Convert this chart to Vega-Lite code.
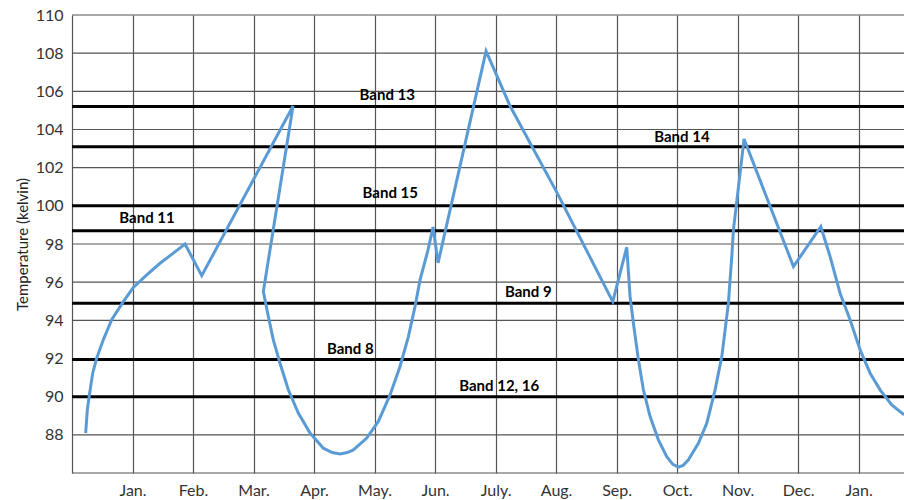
{
  "$schema": "https://vega.github.io/schema/vega-lite/v6.json",
  "width": 832,
  "height": 458,
  "autosize": {"type": "none"},
  "padding": {"left": 72, "top": 15, "right": 0, "bottom": 27},
  "background": "white",
  "config": {
    "view": {"stroke": null},
    "font": "Lato",
    "axisX": {
      "grid": true, "gridColor": "#555", "gridWidth": 1.2,
      "ticks": false, "domain": false, "labelOverlap": false, "labelFlush": false,
      "labelFontSize": 16, "labelColor": "#333", "labelPadding": 9
    },
    "axisY": {
      "grid": false,
      "ticks": false, "domain": false, "labelOverlap": false,
      "labelFontSize": 16, "labelColor": "#333", "labelPadding": 9,
      "titleFontSize": 15, "titleFontWeight": "normal", "titleColor": "#222", "titlePadding": 5
    }
  },
  "datasets": {
    "grid": [
      {"t": 86}, {"t": 88}, {"t": 90}, {"t": 92}, {"t": 94}, {"t": 96}, {"t": 98},
      {"t": 100}, {"t": 102}, {"t": 104}, {"t": 106}, {"t": 108}, {"t": 110}
    ],
    "curve": [
      {"i": 1, "m": 0.226, "t": 88.09},
      {"i": 2, "m": 0.253, "t": 89.31},
      {"i": 3, "m": 0.286, "t": 90.06},
      {"i": 4, "m": 0.342, "t": 91.23},
      {"i": 5, "m": 0.408, "t": 92.02},
      {"i": 6, "m": 0.517, "t": 92.98},
      {"i": 7, "m": 0.656, "t": 94.03},
      {"i": 8, "m": 0.848, "t": 94.98},
      {"i": 9, "m": 1.013, "t": 95.72},
      {"i": 10, "m": 1.235, "t": 96.38},
      {"i": 11, "m": 1.455, "t": 96.99},
      {"i": 12, "m": 1.675, "t": 97.52},
      {"i": 13, "m": 1.868, "t": 98.0},
      {"i": 14, "m": 2.144, "t": 96.34},
      {"i": 15, "m": 3.653, "t": 105.23},
      {"i": 16, "m": 3.162, "t": 95.51},
      {"i": 17, "m": 3.245, "t": 94.2},
      {"i": 18, "m": 3.327, "t": 92.98},
      {"i": 19, "m": 3.438, "t": 91.75},
      {"i": 20, "m": 3.575, "t": 90.36},
      {"i": 21, "m": 3.74, "t": 89.14},
      {"i": 22, "m": 3.934, "t": 88.09},
      {"i": 23, "m": 4.154, "t": 87.3},
      {"i": 24, "m": 4.3, "t": 87.07},
      {"i": 25, "m": 4.43, "t": 87.0},
      {"i": 26, "m": 4.55, "t": 87.07},
      {"i": 27, "m": 4.65, "t": 87.21},
      {"i": 28, "m": 4.871, "t": 87.83},
      {"i": 29, "m": 5.063, "t": 88.7},
      {"i": 30, "m": 5.256, "t": 90.09},
      {"i": 31, "m": 5.421, "t": 91.58},
      {"i": 32, "m": 5.559, "t": 93.15},
      {"i": 33, "m": 5.669, "t": 94.72},
      {"i": 34, "m": 5.752, "t": 96.12},
      {"i": 35, "m": 5.884, "t": 97.69},
      {"i": 36, "m": 5.967, "t": 98.89},
      {"i": 37, "m": 6.05, "t": 97.01},
      {"i": 38, "m": 6.843, "t": 108.11},
      {"i": 39, "m": 7.24, "t": 105.23},
      {"i": 40, "m": 8.017, "t": 100.68},
      {"i": 41, "m": 8.937, "t": 94.98},
      {"i": 42, "m": 9.168, "t": 97.83},
      {"i": 43, "m": 9.223, "t": 95.24},
      {"i": 44, "m": 9.278, "t": 93.85},
      {"i": 45, "m": 9.361, "t": 91.93},
      {"i": 46, "m": 9.443, "t": 90.36},
      {"i": 47, "m": 9.554, "t": 88.96},
      {"i": 48, "m": 9.691, "t": 87.74},
      {"i": 49, "m": 9.829, "t": 86.86},
      {"i": 50, "m": 9.93, "t": 86.45},
      {"i": 51, "m": 10.021, "t": 86.31},
      {"i": 52, "m": 10.1, "t": 86.4},
      {"i": 53, "m": 10.187, "t": 86.69},
      {"i": 54, "m": 10.352, "t": 87.56},
      {"i": 55, "m": 10.491, "t": 88.61},
      {"i": 56, "m": 10.628, "t": 90.36},
      {"i": 57, "m": 10.739, "t": 92.1},
      {"i": 58, "m": 10.848, "t": 94.9},
      {"i": 59, "m": 10.904, "t": 97.34},
      {"i": 60, "m": 10.931, "t": 98.74},
      {"i": 61, "m": 11.107, "t": 103.5},
      {"i": 62, "m": 11.923, "t": 96.82},
      {"i": 63, "m": 12.375, "t": 98.91},
      {"i": 64, "m": 12.529, "t": 97.34},
      {"i": 65, "m": 12.694, "t": 95.42},
      {"i": 66, "m": 12.86, "t": 94.02},
      {"i": 67, "m": 13.025, "t": 92.45},
      {"i": 68, "m": 13.19, "t": 91.23},
      {"i": 69, "m": 13.355, "t": 90.36},
      {"i": 70, "m": 13.548, "t": 89.57},
      {"i": 71, "m": 13.752, "t": 89.05}
    ],
    "bands": [
      {"band": "Band 13", "t": 105.2, "lx": 5.21, "ly": 105.81},
      {"band": "Band 14", "t": 103.1, "lx": 10.08, "ly": 103.61},
      {"band": "Band 15", "t": 100.0, "lx": 5.26, "ly": 100.68},
      {"band": "Band 11", "t": 98.7, "lx": 1.24, "ly": 99.37},
      {"band": "Band 9", "t": 94.9, "lx": 7.54, "ly": 95.49},
      {"band": "Band 8", "t": 91.95, "lx": 4.6, "ly": 92.5},
      {"band": "Band 12, 16", "t": 90.0, "lx": 7.06, "ly": 90.57}
    ]
  },
  "layer": [
    {
      "data": {"name": "grid"},
      "mark": {"type": "rule", "color": "#555", "strokeWidth": 1.2},
      "encoding": {
        "y": {"field": "t", "type": "quantitative", "scale": {"domain": [86, 110], "nice": false, "zero": false},
          "axis": {
            "values": [86, 88, 90, 92, 94, 96, 98, 100, 102, 104, 106, 108, 110],
            "labelExpr": "datum.value == 86 ? '' : datum.label",
            "title": "Temperature (kelvin)"
          }
        }
      }
    },
    {
      "data": {"name": "bands"},
      "mark": {"type": "rule", "color": "black", "strokeWidth": 3},
      "encoding": {
        "y": {"field": "t", "type": "quantitative", "scale": {"domain": [86, 110], "nice": false, "zero": false},
          "axis": {
            "values": [86, 88, 90, 92, 94, 96, 98, 100, 102, 104, 106, 108, 110],
            "labelExpr": "datum.value == 86 ? '' : datum.label",
            "title": "Temperature (kelvin)"
          }
        }
      }
    },
    {
      "data": {"name": "curve"},
      "mark": {"type": "line", "color": "#5B9BD5", "strokeWidth": 3, "clip": true},
      "encoding": {
        "x": {"field": "m", "type": "quantitative", "scale": {"domain": [0, 13.75], "nice": false, "zero": false},
          "axis": {
            "values": [0, 1, 2, 3, 4, 5, 6, 7, 8, 9, 10, 11, 12, 13],
            "labelExpr": "['', 'Jan.', 'Feb.', 'Mar.', 'Apr.', 'May.', 'Jun.', 'July.', 'Aug.', 'Sep.', 'Oct.', 'Nov.', 'Dec.', 'Jan.'][datum.value]",
            "title": null
          }
        },
        "y": {"field": "t", "type": "quantitative", "scale": {"domain": [86, 110], "nice": false, "zero": false},
          "axis": {
            "values": [86, 88, 90, 92, 94, 96, 98, 100, 102, 104, 106, 108, 110],
            "labelExpr": "datum.value == 86 ? '' : datum.label",
            "title": "Temperature (kelvin)"
          }
        },
        "order": {"field": "i", "type": "quantitative"}
      }
    },
    {
      "data": {"name": "bands"},
      "mark": {"type": "text", "fontWeight": "bold", "fontSize": 15, "color": "black", "align": "center", "baseline": "middle"},
      "encoding": {
        "x": {"field": "lx", "type": "quantitative", "scale": {"domain": [0, 13.75], "nice": false, "zero": false},
          "axis": {
            "values": [0, 1, 2, 3, 4, 5, 6, 7, 8, 9, 10, 11, 12, 13],
            "labelExpr": "['', 'Jan.', 'Feb.', 'Mar.', 'Apr.', 'May.', 'Jun.', 'July.', 'Aug.', 'Sep.', 'Oct.', 'Nov.', 'Dec.', 'Jan.'][datum.value]",
            "title": null
          }
        },
        "y": {"field": "ly", "type": "quantitative", "scale": {"domain": [86, 110], "nice": false, "zero": false},
          "axis": {
            "values": [86, 88, 90, 92, 94, 96, 98, 100, 102, 104, 106, 108, 110],
            "labelExpr": "datum.value == 86 ? '' : datum.label",
            "title": "Temperature (kelvin)"
          }
        },
        "text": {"field": "band"}
      }
    }
  ]
}
